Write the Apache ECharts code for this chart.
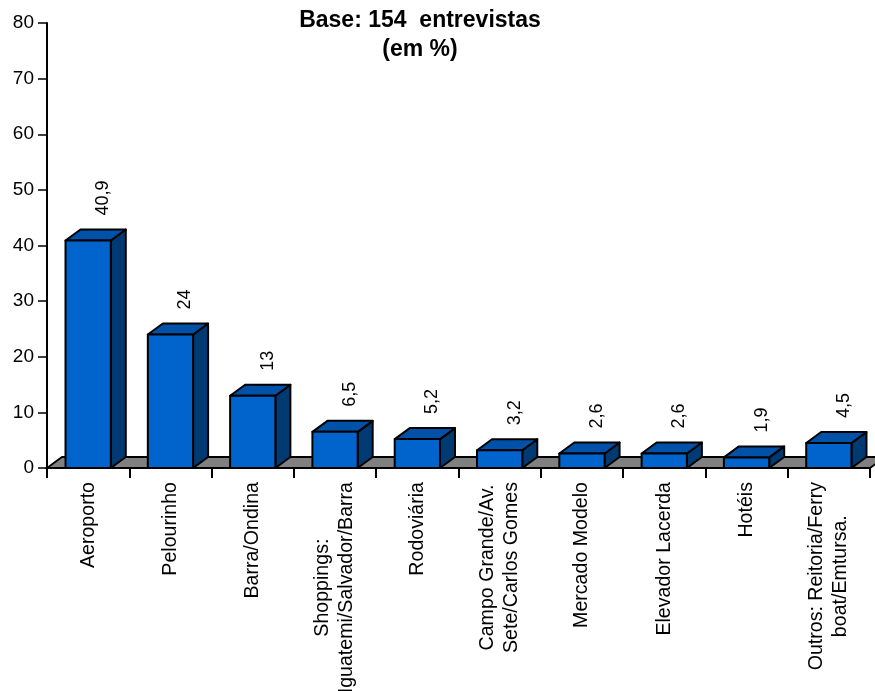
<!DOCTYPE html>
<html>
<head>
<meta charset="utf-8">
<script src="https://cdn.jsdelivr.net/npm/echarts@6/dist/echarts.min.js"></script>
<style>
  html, body { margin: 0; padding: 0; background: #fff; }
  #chart { width: 875px; height: 691px; }
</style>
</head>
<body>
<div id="chart"></div>
<script>
// Locais citados pelos entrevistados (%)
const categories = [
  'Aeroporto',
  'Pelourinho',
  'Barra/Ondina',
  'Shoppings:\nIguatemi/Salvador/Barra',
  'Rodoviária',
  'Campo Grande/Av.\nSete/Carlos Gomes',
  'Mercado Modelo',
  'Elevador Lacerda',
  'Hotéis',
  'Outros: Reitoria/Ferry\nboat/Emtursa.'
];
const values = [40.9, 24, 13, 6.5, 5.2, 3.2, 2.6, 2.6, 1.9, 4.5];
const valueLabels = ['40,9', '24', '13', '6,5', '5,2', '3,2', '2,6', '2,6', '1,9', '4,5'];
const yTicks = { min: 0, max: 80, interval: 10 };
const titleText = 'Base: 154  entrevistas\n(em %)';

const FONT = "'Liberation Sans', Arial, Helvetica, sans-serif";
// pseudo-3D depth of the bars and floor
const DX = 15, DY = 11;

const chart = echarts.init(document.getElementById('chart'), null, { renderer: 'canvas' });

function renderFloor(params) {
  const cs = params.coordSys;
  const yb = cs.y + cs.height;
  return {
    type: 'polygon',
    shape: { points: [[cs.x, yb], [cs.x + DX, yb - DY], [cs.x + cs.width + DX, yb - DY], [cs.x + cs.width, yb]] },
    style: { fill: '#808080', stroke: '#000', lineWidth: 1.8 }
  };
}

function renderBar(params, api) {
  const idx = api.value(0);
  const v = api.value(1);
  const top = api.coord([idx, v]);
  const base = api.coord([idx, 0]);
  const bw = api.size([1, 0])[0] * 0.55;
  const x0 = top[0] - bw / 2, x1 = top[0] + bw / 2;
  const yt = top[1], yb = base[1];
  const line = { stroke: '#000', lineWidth: 2, lineJoin: 'round' };
  return {
    type: 'group',
    children: [
      {
        type: 'polygon',
        shape: { points: [[x1, yt], [x1 + DX, yt - DY], [x1 + DX, yb - DY], [x1, yb]] },
        style: Object.assign({ fill: '#003a73' }, line)
      },
      {
        type: 'polygon',
        shape: { points: [[x0, yt], [x0 + DX, yt - DY], [x1 + DX, yt - DY], [x1, yt]] },
        style: Object.assign({ fill: '#0052a8' }, line)
      },
      {
        type: 'rect',
        shape: { x: x0, y: yt, width: bw, height: yb - yt },
        style: Object.assign({ fill: '#0064cc' }, line)
      },
      {
        type: 'text',
        x: top[0] + 15,
        y: yt - DY - 14,
        rotation: Math.PI / 2,
        style: {
          text: valueLabels[idx],
          font: '18px ' + FONT,
          fill: '#000',
          align: 'left',
          verticalAlign: 'middle'
        }
      }
    ]
  };
}

const option = {
  animation: false,
  backgroundColor: '#fff',
  title: {
    text: titleText,
    left: 415,
    top: 1,
    textAlign: 'center',
    textStyle: { fontFamily: FONT, fontWeight: 'bold', fontSize: 23, lineHeight: 29, color: '#000' }
  },
  grid: { left: 47, right: 5, top: 23, bottom: 223, containLabel: false, outerBoundsMode: 'none' },
  xAxis: {
    type: 'category',
    data: categories,
    boundaryGap: true,
    axisLine: { show: true, lineStyle: { color: '#000', width: 1.5 } },
    axisTick: { show: true, length: 10, lineStyle: { color: '#000', width: 2 } },
    axisLabel: {
      rotate: 90,
      interval: 0,
      margin: 14,
      color: '#000',
      fontFamily: FONT,
      fontSize: 19.6,
      formatter: function (s) {
        return s.split('\n').map(function (l) { return '{c|' + l + '}'; }).join('\n');
      },
      rich: { c: { align: 'center', fontFamily: FONT, fontSize: 19.6, lineHeight: 24, color: '#000' } }
    }
  },
  yAxis: {
    type: 'value',
    min: yTicks.min,
    max: yTicks.max,
    interval: yTicks.interval,
    splitLine: { show: false },
    axisLine: { show: true, lineStyle: { color: '#000', width: 2 } },
    axisTick: { show: true, length: 9, lineStyle: { color: '#000', width: 1.5 } },
    axisLabel: { margin: 13, color: '#000', fontFamily: FONT, fontSize: 19 }
  },
  series: [
    {
      type: 'custom',
      z: 1,
      renderItem: renderFloor,
      data: [0],
      clip: false,
      silent: true
    },
    {
      type: 'custom',
      z: 2,
      renderItem: renderBar,
      encode: { x: 0, y: 1 },
      data: values.map(function (v, i) { return [i, v]; }),
      clip: false
    }
  ]
};

chart.setOption(option);
</script>
</body>
</html>
